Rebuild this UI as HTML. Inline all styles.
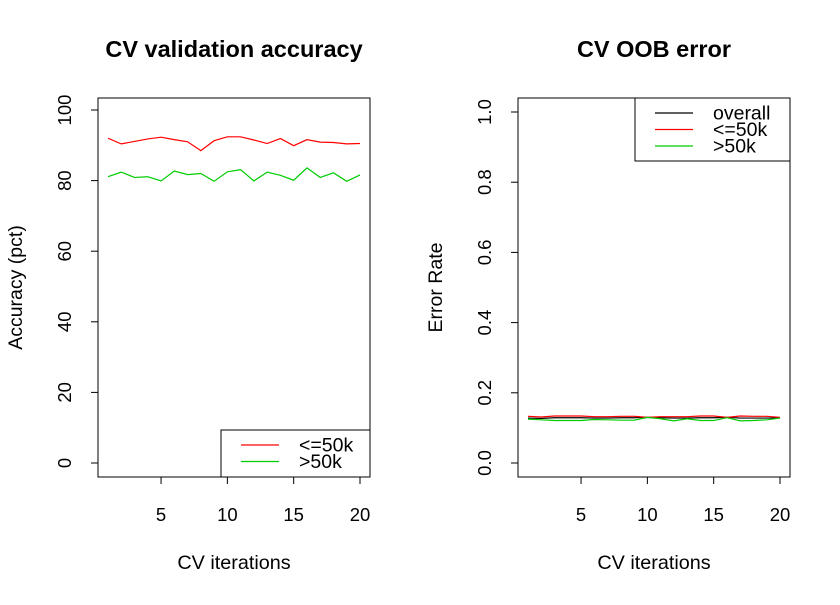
<!DOCTYPE html>
<html><head><meta charset="utf-8"><style>
body{margin:0;background:#fff}
svg text{font-family:"Liberation Sans",Arial,sans-serif;fill:#000}
</style></head><body>
<svg width="840" height="600" xmlns="http://www.w3.org/2000/svg" id="chart">
<g id="left"></g>
<g id="right"></g>
</svg>
<script>
const iters = [1,2,3,4,5,6,7,8,9,10,11,12,13,14,15,16,17,18,19,20];
const accLow = [92.0,90.4,91.1,91.8,92.3,91.6,91.0,88.5,91.3,92.4,92.4,91.5,90.5,91.9,89.9,91.6,90.9,90.8,90.4,90.5];
const accHigh = [81.1,82.4,80.9,81.1,79.9,82.7,81.7,82.0,79.8,82.5,83.1,79.9,82.4,81.5,80.1,83.6,80.9,82.2,79.8,81.6];
const errOverall = [0.128,0.127,0.129,0.129,0.129,0.128,0.128,0.129,0.129,0.130,0.129,0.128,0.128,0.129,0.129,0.130,0.128,0.128,0.128,0.128];
const errLow = [0.133,0.131,0.134,0.134,0.134,0.132,0.132,0.133,0.133,0.130,0.132,0.132,0.132,0.134,0.134,0.130,0.134,0.133,0.133,0.130];
const errHigh = [0.125,0.123,0.121,0.121,0.121,0.124,0.123,0.122,0.122,0.130,0.126,0.120,0.126,0.121,0.121,0.129,0.120,0.121,0.123,0.128];
const xTicks = [5,10,15,20];
const accTicks = [0,20,40,60,80,100];
const errTicks = [0.0,0.2,0.4,0.6,0.8,1.0];

const NS="http://www.w3.org/2000/svg";
function mk(parent,tag,attrs,text){const e=document.createElementNS(NS,tag);for(const k in attrs)e.setAttribute(k,attrs[k]);if(text!==undefined)e.textContent=text;parent.appendChild(e);return e;}

function panel(g,box,ymin,ymax,yTicks,fmt,title,ylab,series,legend){
  const sx=v=>box.x0+(v-1)/(19)*(box.x1r-box.x0);
  const sy=v=>box.yb-(v-ymin)/(ymax-ymin)*(box.yb-box.yt);
  const frame=mk(g,'rect',{x:box.L,y:box.T,width:box.R-box.L,height:box.B-box.T,fill:'none',stroke:'#000','stroke-width':1});
  
  
  const t=mk(g,'text',{x:(box.L+box.R)/2,y:57,'text-anchor':'middle','font-size':23.5,'font-weight':'bold'},title);
  
  
  const xl=mk(g,'text',{x:(box.L+box.R)/2,y:569,'text-anchor':'middle','font-size':19.8},'CV iterations');
  
  
  const yl=mk(g,'text',{x:0,y:0,'text-anchor':'middle','font-size':19.5,transform:`translate(${box.L-76},${(box.T+box.B)/2}) rotate(-90)`},ylab);
  
  
  mk(g,'line',{x1:sx(xTicks[0]),x2:sx(xTicks[xTicks.length-1]),y1:box.B,y2:box.B,stroke:'#000'});
  xTicks.forEach(v=>{
    mk(g,'line',{x1:sx(v),x2:sx(v),y1:box.B,y2:box.B+7,stroke:'#000'});
    const l=mk(g,'text',{x:sx(v),y:521,'text-anchor':'middle','font-size':18.5},v);
    
    
  });
  mk(g,'line',{x1:box.L,x2:box.L,y1:sy(yTicks[0]),y2:sy(yTicks[yTicks.length-1]),stroke:'#000'});
  yTicks.forEach(v=>{
    mk(g,'line',{x1:box.L-7,x2:box.L,y1:sy(v),y2:sy(v),stroke:'#000'});
    const l=mk(g,'text',{x:0,y:0,'text-anchor':'middle','font-size':18.5,transform:`translate(${box.L-27},${sy(v)}) rotate(-90)`},fmt(v));
    
    
  });
  series.forEach(s=>{
    const p=mk(g,'polyline',{points:iters.map((x,i)=>sx(x)+','+sy(s.vals[i])).join(' '),fill:'none',stroke:s.color,'stroke-width':1.2});
    
    
  });
  const lg=mk(g,'g',{});
  
  
  mk(lg,'rect',{x:legend.x,y:legend.y,width:legend.w,height:legend.h,fill:'#fff',stroke:'#000'});
  legend.items.forEach((it,i)=>{
    const yy=legend.y+15+i*16.5;
    mk(lg,'line',{x1:legend.x+20,x2:legend.x+58,y1:yy,y2:yy,stroke:it.color,'stroke-width':1.2});
    const tx=mk(lg,'text',{x:legend.x+78,y:yy+6.5,'font-size':19.5},it.label);
    
    
  });
}
panel(document.getElementById('left'),{L:98,R:370,T:98,B:477,x0:108,x1r:360,yb:463,yt:110},0,100,accTicks,v=>String(v),
 'CV validation accuracy','Accuracy (pct)',
 [{vals:accLow,color:'#ff0000',name:'line-le50k'},{vals:accHigh,color:'#00cd00',name:'line-gt50k'}],
 {x:221,y:430,w:149,h:47,items:[{label:'<=50k',color:'#ff0000'},{label:'>50k',color:'#00cd00'}]});
panel(document.getElementById('right'),{L:518,R:790,T:98,B:477,x0:528,x1r:780,yb:463,yt:112},0,1,errTicks,v=>v.toFixed(1),
 'CV OOB error','Error Rate',
 [{vals:errOverall,color:'#000000',name:'line-overall'},{vals:errLow,color:'#ff0000',name:'line-le50k'},{vals:errHigh,color:'#00cd00',name:'line-gt50k'}],
 {x:635,y:98,w:155,h:63,items:[{label:'overall',color:'#000'},{label:'<=50k',color:'#ff0000'},{label:'>50k',color:'#00cd00'}]});
</script>
</body></html>
